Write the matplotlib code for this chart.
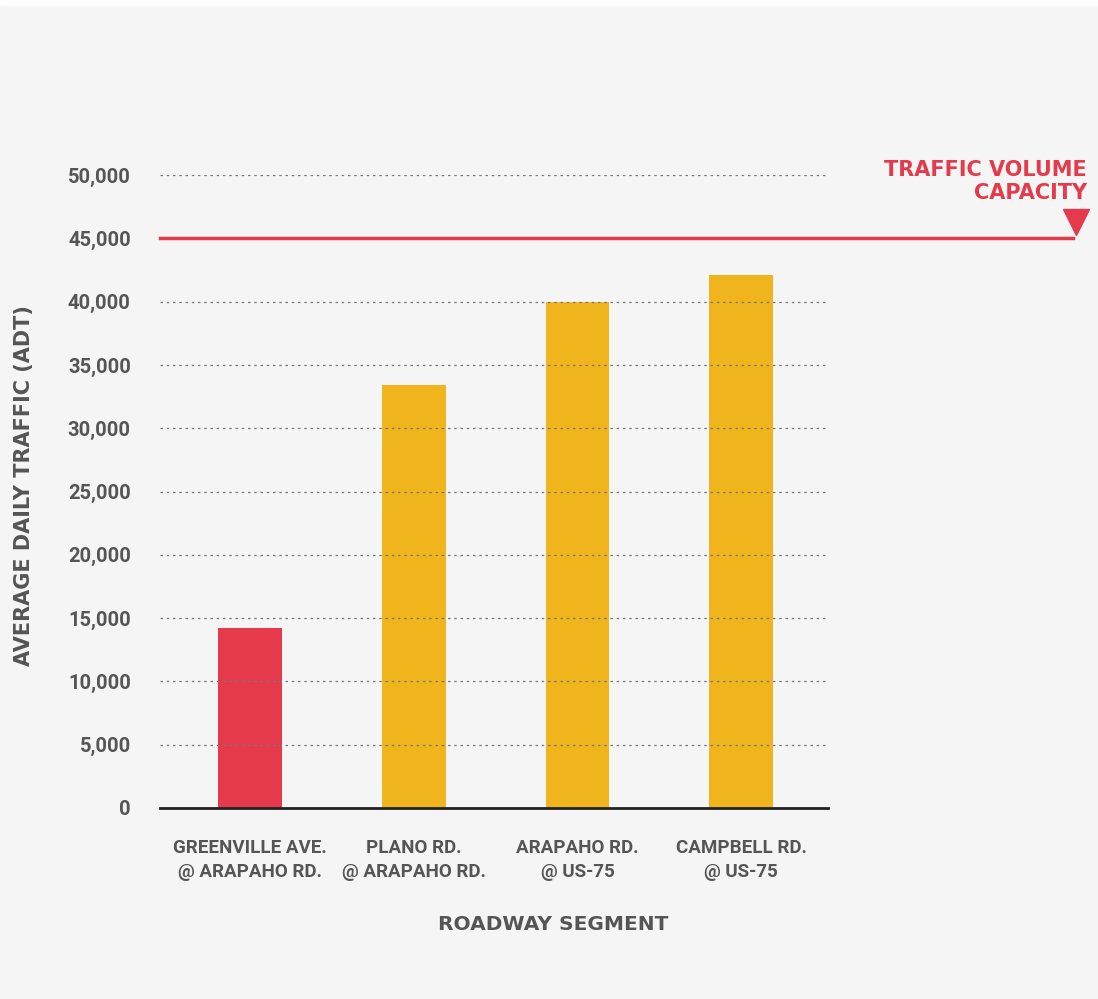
import matplotlib.pyplot as plt
from matplotlib.lines import Line2D

segments = ["GREENVILLE AVE.\n@ ARAPAHO RD.", "PLANO RD.\n@ ARAPAHO RD.",
            "ARAPAHO RD.\n@ US-75", "CAMPBELL RD.\n@ US-75"]
adt = [14200, 33400, 40000, 42100]
bar_colors = ["#E43A4B", "#F0B41C", "#F0B41C", "#F0B41C"]
capacity = 45000
yticks = list(range(0, 50001, 5000))

BG = "#F5F5F5"
GRAY = "#555555"
RED = "#E43A4B"
narrow = ["Roboto", "DejaVu Sans"]
heavy = ["DejaVu Sans"]

fig = plt.figure(figsize=(10.98, 9.99), dpi=100)
fig.patch.set_facecolor(BG)
ax = fig.add_axes([0.1457, 0.1912, 0.6084, 0.6336])
ax.set_facecolor(BG)

x = list(range(len(segments)))
ax.bar(x, adt, width=0.39, color=bar_colors, zorder=1)

# dotted grid drawn over the bars
for v in yticks[1:]:
    ax.axhline(v, color="#777777", lw=0.9, ls=(0, (2, 3)), zorder=2)

ax.set_xlim(-0.55, 3.53)
ax.set_ylim(0, 50000)
ax.set_yticks(yticks)
ax.set_yticklabels([f"{v:,}" for v in yticks], family=narrow, fontweight="bold",
                   fontsize=14.5, color=GRAY)
ax.set_xticks(x)
ax.set_xticklabels(segments, family=narrow, fontweight="bold", fontsize=13.5,
                   color=GRAY, linespacing=1.45)
ax.tick_params(axis="y", length=0, pad=21)
ax.tick_params(axis="x", length=0, pad=22)

for s in ["top", "right", "left"]:
    ax.spines[s].set_visible(False)
ax.spines["bottom"].set_color("#222222")
ax.spines["bottom"].set_linewidth(2)
ax.spines["bottom"].set_zorder(3)

# capacity line running out past the plot
tr = ax.get_yaxis_transform()
ax.add_line(Line2D([0, 1.367], [capacity, capacity], transform=tr, color=RED,
                   lw=2.5, clip_on=False, zorder=4))
ax.plot([1.371], [capacity + 1250], marker="v", markersize=18.5, color=RED,
        transform=tr, clip_on=False, zorder=4)
ax.text(1.388, 49500, "TRAFFIC VOLUME\nCAPACITY", transform=tr, ha="right",
        va="center", family=heavy, fontweight="heavy", fontsize=15, color=RED,
        linespacing=1.2)

ax.set_ylabel("AVERAGE DAILY TRAFFIC (ADT)", family=heavy, fontweight="heavy",
              fontsize=15, color=GRAY, va="center")
ax.yaxis.set_label_coords(-0.2036, 0.51)
ax.set_xlabel("ROADWAY SEGMENT", family=heavy, fontweight="heavy",
              fontsize=14.5, color=GRAY, va="center")
ax.xaxis.set_label_coords(0.588, -0.184)

# thin white strip at the top edge
fig.add_artist(plt.Rectangle((0, 0.995), 1, 0.005, transform=fig.transFigure,
                             color="white", zorder=10))

fig.savefig("out.png", dpi=100, facecolor=BG)
